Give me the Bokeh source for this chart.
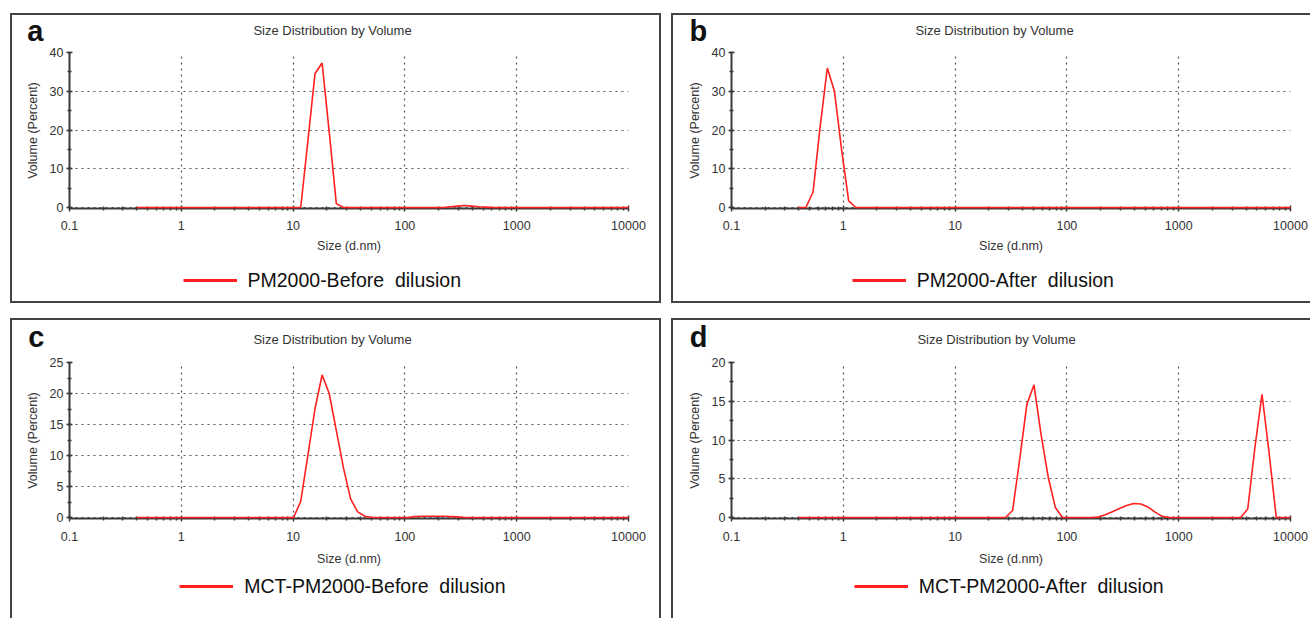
from bokeh.plotting import figure
from bokeh.models import Range1d, FixedTicker, SingleIntervalTicker, Label, Legend, LegendItem
from bokeh.layouts import row, column
from bokeh.embed import file_html
from bokeh.resources import INLINE

# ---------------- data ----------------
x_ticks = [0.1, 1, 10, 100, 1000, 10000]
x_tick_labels = ["0.1", "1", "10", "100", "1000", "10000"]

title_text = "Size Distribution by Volume"
x_label = "Size (d.nm)"
y_label = "Volume (Percent)"

size_a = [0.4, 11.70, 13.54, 15.69, 18.17, 21.04, 24.36, 28.21, 220.2, 255.0, 295.3, 342.0, 396.1, 458.7, 531.2, 615.1, 10000]
vol_a = [0, 0, 17.0, 34.5, 37.3, 19.5, 1.0, 0, 0, 0.2, 0.35, 0.5, 0.35, 0.2, 0.1, 0, 0]

size_b = [0.4, 0.4632, 0.5365, 0.6213, 0.7195, 0.8332, 0.9649, 1.117, 1.294, 10000]
vol_b = [0, 0, 4.0, 21.0, 36.0, 30.0, 15.0, 1.7, 0, 0]

size_c = [0.4, 10.10, 11.70, 13.54, 15.69, 18.17, 21.04, 24.36, 28.21, 32.67, 37.84, 43.82, 50.75,
          105.7, 122.4, 141.8, 164.2, 190.1, 220.2, 255.0, 295.3, 342.0, 10000]
vol_c = [0, 0, 2.6, 10.0, 17.5, 23.0, 20.0, 14.0, 8.0, 3.0, 0.9, 0.2, 0,
         0, 0.15, 0.2, 0.2, 0.2, 0.2, 0.15, 0.1, 0, 0]

size_d = [0.4, 28.21, 32.67, 37.84, 43.82, 50.75, 58.77, 68.06, 78.82, 91.28,
          164.2, 190.1, 220.2, 255.0, 295.3, 342.0, 396.1, 458.7, 531.2, 615.1, 712.4, 825.0,
          3580, 4145, 4801, 5560, 6439, 7456, 10000]
vol_d = [0, 0, 0.9, 7.5, 14.6, 17.1, 10.7, 5.2, 1.3, 0,
         0, 0.05, 0.35, 0.75, 1.15, 1.55, 1.8, 1.75, 1.35, 0.7, 0.15, 0,
         0, 1.1, 9.0, 15.9, 8.3, 0, 0]

legend_a = "PM2000-Before  dilusion"
legend_b = "PM2000-After  dilusion"
legend_c = "MCT-PM2000-Before  dilusion"
legend_d = "MCT-PM2000-After  dilusion"

# ---------------- style ----------------
RED = "#ff2020"
DARK = "#3a3a3a"
FONT = "Liberation Sans"
x_minor = [m * 10.0 ** e for e in range(-1, 4) for m in range(2, 10)]
FRAME_H = 156
OVERLAP = 6


def no_align(f):
    try:
        f.frame_align = False
    except Exception:
        pass


def bare(width, height):
    # axis-less strip; its view range lies away from all data, so only annotations show
    f = figure(width=width, height=height, x_axis_type=None, y_axis_type=None,
               x_range=Range1d(-2, -1), y_range=Range1d(-2, -1), title=None,
               output_backend="svg", toolbar_location=None, min_border=0)
    f.outline_line_color = None
    f.background_fill_color = None
    f.border_fill_color = None
    no_align(f)
    return f


def make_panel(letter, sizes, vols, ymax, yint, legend_label, width, fl, fr,
               head_h, foot_h, letter_xy, title_xy, legend_loc, lab_standoffs, shadow):
    # header: panel letter and title
    head = bare(width, head_h)
    head.add_layout(Label(x=letter_xy[0], y=letter_xy[1], x_units="screen", y_units="screen",
                          text=letter, text_font=FONT, text_font_size="29px", text_font_style="bold",
                          text_color="#111111", text_baseline="middle", text_align="left"))
    head.add_layout(Label(x=title_xy[0], y=title_xy[1], x_units="screen", y_units="screen",
                          text=title_text, text_font=FONT, text_font_size="13px",
                          text_color="#333333", text_baseline="middle", text_align="center"))

    # main plot
    p = figure(width=width, height=217, x_axis_type="log",
               x_range=Range1d(0.1, 10000), y_range=Range1d(-ymax / FRAME_H, ymax),
               output_backend="svg", toolbar_location=None, title=None,
               min_border_left=fl, min_border_right=fr, min_border_top=9, min_border_bottom=52,
               margin=(-OVERLAP, 0, 0, 0))
    p.border_fill_color = None
    p.background_fill_color = "white"
    p.outline_line_color = None
    no_align(p)

    xa = p.xaxis[0]
    xa.ticker = FixedTicker(ticks=x_ticks, minor_ticks=x_minor)
    xa.major_label_overrides = dict(zip(x_ticks, x_tick_labels))
    ya = p.yaxis[0]
    ya.ticker = SingleIntervalTicker(interval=yint, num_minor_ticks=2)
    for ax in (xa, ya):
        ax.axis_line_color = DARK
        ax.axis_line_width = 2
        ax.major_tick_line_color = DARK
        ax.minor_tick_line_color = DARK
        ax.major_tick_line_width = 1.5
        ax.minor_tick_line_width = 1.5
        ax.major_tick_in = 3
        ax.major_tick_out = 3
        ax.minor_tick_in = 2
        ax.minor_tick_out = 2
        ax.major_label_text_font = FONT
        ax.major_label_text_font_size = "12.5px"
        ax.major_label_text_color = "#333333"
        ax.axis_label_text_font = FONT
        ax.axis_label_text_font_size = "12.5px"
        ax.axis_label_text_font_style = "normal"
        ax.axis_label_text_color = "#333333"
    xa.axis_label = x_label
    ya.axis_label = y_label
    xa.major_label_standoff = lab_standoffs[0]
    xa.axis_label_standoff = lab_standoffs[1]
    ya.major_label_standoff = 3
    ya.axis_label_standoff = 7

    p.grid.grid_line_color = "#555555"
    p.grid.grid_line_dash = "2 4"
    p.grid.grid_line_width = 1.2

    r = p.line(sizes, vols, line_color=RED, line_width=1.6)
    r.level = "overlay"

    # footer: legend (its renderer holds the same series, outside the strip's view)
    foot = bare(width, foot_h)
    r_leg = foot.line(sizes, vols, line_color=RED, line_width=3)
    leg = Legend(items=[LegendItem(label=legend_label, renderers=[r_leg])],
                 location=legend_loc, orientation="horizontal",
                 label_text_font=FONT, label_text_font_size="19.5px", label_text_color="#111111",
                 glyph_width=54, glyph_height=20, label_height=20, label_standoff=11,
                 padding=0, margin=0, spacing=0,
                 border_line_color=None, background_fill_alpha=0)
    foot.add_layout(leg, "center")

    return column(head, p, foot, spacing=0, styles={"box-shadow": shadow})


S_ALL = "inset 0 0 0 2px #444"
S_B = "inset 2px 0 0 0 #444, inset 0 2px 0 0 #444, inset 0 -2px 0 0 #444"
S_C = "inset 2px 0 0 0 #444, inset 0 2px 0 0 #444, inset -2px 0 0 0 #444"
S_D = "inset 2px 0 0 0 #444, inset 0 2px 0 0 #444"

pa = make_panel("a", size_a, vol_a, 40, 10, legend_a, 651, 59, 33, 36, 43,
                (16.7, 18.3), (322, 19), (172.5, 11.5), (9, 6), S_ALL)
pb = make_panel("b", size_b, vol_b, 40, 10, legend_b, 639, 60, 20, 36, 43,
                (18, 18.3), (323, 19), (180.7, 11.5), (9, 6), S_B)
pc = make_panel("c", size_c, vol_c, 25, 5, legend_c, 651, 59, 33, 41, 48,
                (17.7, 23), (322, 19.7), (169.3, 20.5), (10, 8), S_C)
pd = make_panel("d", size_d, vol_d, 20, 5, legend_d, 639, 60, 20, 41, 48,
                (18.3, 23), (325, 19.7), (182.7, 20.5), (10, 8), S_D)

layout = column(row(pa, pb, spacing=10), row(pc, pd, spacing=10), spacing=15, margin=(13, 0, 0, 10))

open("out.html", "w").write(file_html(layout, INLINE))
